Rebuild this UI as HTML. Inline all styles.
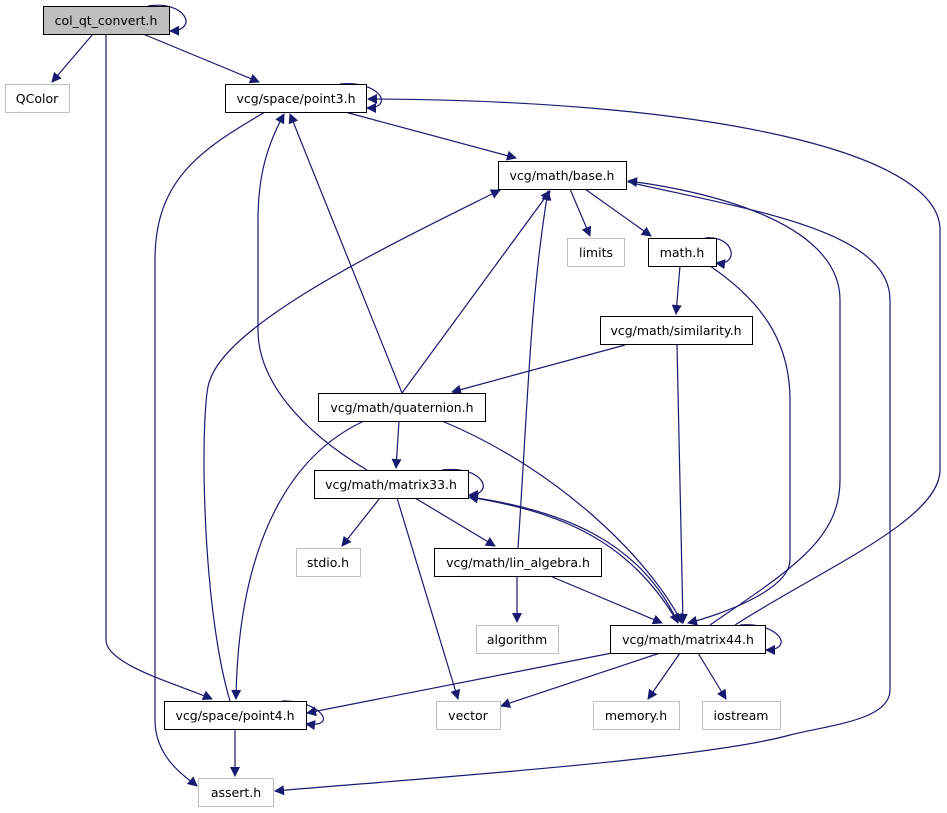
<!DOCTYPE html>
<html><head><meta charset="utf-8"><style>
html,body{margin:0;padding:0;background:#fff;}
svg{display:block;}
text{font-family:"DejaVu Sans","Liberation Sans",sans-serif;font-size:12.5px;text-anchor:middle;fill:#000;}
.e{fill:none;stroke:#191970;stroke-width:1.2;}
</style></head><body>
<svg width="947" height="813" viewBox="0 0 947 813" xmlns="http://www.w3.org/2000/svg">
<defs><marker id="a" viewBox="0 0 10 10" refX="9" refY="5" markerWidth="12" markerHeight="10" markerUnits="userSpaceOnUse" orient="auto"><path d="M0,0L10,5L0,10z" fill="#191970"/></marker></defs>
<g class="e" marker-end="url(#a)">
<path d="M148,6 C185,0 200,30 170,31"/>
<path d="M93,34 L52,82"/>
<path d="M106,34 L106,640 C106,665 180,685 212,699"/>
<path d="M143,34 L259,82"/>
<path d="M340,84 C380,80 395,108 367,108"/>
<path d="M345,112 L516,158"/>
<path d="M265,112 C200,150 155,180 155,260 L155,720 C155,760 190,780 197,786"/>
<path d="M735,625 C820,570 940,520 940,470 L940,230 C940,150 700,100 368,99"/>
<path d="M570,189 L590,236"/>
<path d="M585,189 L651,236"/>
<path d="M710,625 C790,570 840,540 840,480 L840,300 C840,220 700,190 628,181"/>
<path d="M705,238 C735,235 740,266 716,263"/>
<path d="M680,266 L676,314"/>
<path d="M710,266 C760,300 790,340 790,400 L790,560 C790,590 720,615 688,623"/>
<path d="M625,345 L452,392"/>
<path d="M677,345 L683,623"/>
<path d="M402,393 L290,114"/>
<path d="M402,393 L550,191"/>
<path d="M399,421 L396,468"/>
<path d="M364,421 C280,460 238,560 236,699"/>
<path d="M442,421 C560,470 650,560 682,623"/>
<path d="M367,470 C300,430 258,380 258,330 L258,220 C258,170 270,140 284,114"/>
<path d="M442,470 C485,465 495,495 469,495"/>
<path d="M380,498 L342,546"/>
<path d="M415,498 L495,546"/>
<path d="M397,498 L458,699"/>
<path d="M470,497 C560,510 640,540 678,623"/>
<path d="M678,623 C630,540 560,512 469,497"/>
<path d="M518,548 C528,400 530,300 548,191"/>
<path d="M517,576 L517,622"/>
<path d="M550,576 L662,623"/>
<path d="M740,625 C780,622 795,650 766,650"/>
<path d="M612,653 L307,713"/>
<path d="M660,653 L501,706"/>
<path d="M680,653 L648,699"/>
<path d="M698,653 L726,699"/>
<path d="M230,701 C200,600 200,400 210,380 C230,320 400,240 500,190"/>
<path d="M282,701 C320,700 340,728 306,724"/>
<path d="M235,729 L235,776"/>
<path d="M628,182 C750,210 890,230 890,300 L890,690 C890,720 830,725 790,735 C700,760 400,780 275,791"/>
</g>
<g stroke-width="1">
<rect x="43.5" y="6.5" width="126" height="28" fill="#bfbfbf" stroke="#000"/><text x="106" y="25">col_qt_convert.h</text>
<rect x="5.5" y="84.5" width="64" height="28" fill="#fff" stroke="#bfbfbf"/><text x="37" y="103">QColor</text>
<rect x="225.5" y="84.5" width="141" height="28" fill="#fff" stroke="#000"/><text x="296" y="103">vcg/space/point3.h</text>
<rect x="498.5" y="161.5" width="128" height="28" fill="#fff" stroke="#000"/><text x="562" y="180">vcg/math/base.h</text>
<rect x="567.5" y="238.5" width="57" height="28" fill="#fff" stroke="#bfbfbf"/><text x="596" y="257">limits</text>
<rect x="648.5" y="238.5" width="68" height="28" fill="#fff" stroke="#000"/><text x="682" y="257">math.h</text>
<rect x="600.5" y="316.5" width="152" height="28" fill="#fff" stroke="#000"/><text x="676" y="335">vcg/math/similarity.h</text>
<rect x="318.5" y="393.5" width="167" height="28" fill="#fff" stroke="#000"/><text x="402" y="412">vcg/math/quaternion.h</text>
<rect x="314.5" y="470.5" width="154" height="28" fill="#fff" stroke="#000"/><text x="391" y="489">vcg/math/matrix33.h</text>
<rect x="296.5" y="548.5" width="64" height="28" fill="#fff" stroke="#bfbfbf"/><text x="328" y="567">stdio.h</text>
<rect x="434.5" y="548.5" width="167" height="28" fill="#fff" stroke="#000"/><text x="518" y="567">vcg/math/lin_algebra.h</text>
<rect x="476.5" y="625.5" width="82" height="28" fill="#fff" stroke="#bfbfbf"/><text x="517" y="644">algorithm</text>
<rect x="610.5" y="625.5" width="155" height="28" fill="#fff" stroke="#000"/><text x="688" y="644">vcg/math/matrix44.h</text>
<rect x="164.5" y="701.5" width="142" height="28" fill="#fff" stroke="#000"/><text x="235" y="720">vcg/space/point4.h</text>
<rect x="436.5" y="701.5" width="64" height="28" fill="#fff" stroke="#bfbfbf"/><text x="468" y="720">vector</text>
<rect x="593.5" y="701.5" width="86" height="28" fill="#fff" stroke="#bfbfbf"/><text x="636" y="720">memory.h</text>
<rect x="702.5" y="701.5" width="78" height="28" fill="#fff" stroke="#bfbfbf"/><text x="741" y="720">iostream</text>
<rect x="198.5" y="778.5" width="75" height="28" fill="#fff" stroke="#bfbfbf"/><text x="236" y="797">assert.h</text>
</g>
</svg>
</body></html>
